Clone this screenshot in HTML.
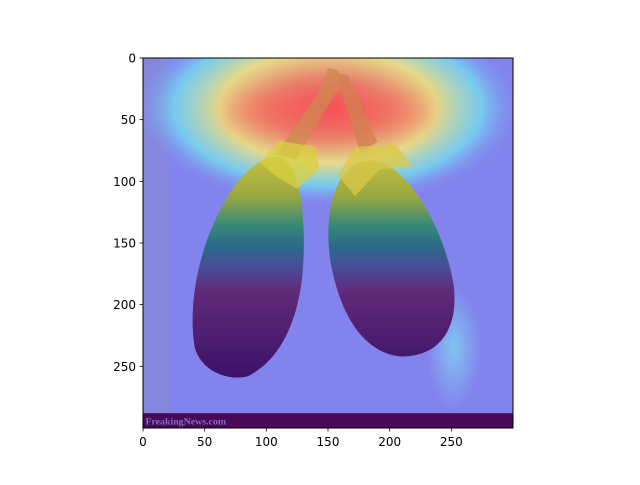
<!DOCTYPE html>
<html><head><meta charset="utf-8">
<style>
html,body{margin:0;padding:0;background:#fff;}
svg text{font-family:"DejaVu Sans","Liberation Sans",sans-serif;font-size:12px;fill:#000;}
</style></head>
<body>
<svg id="chart" width="640" height="480" viewBox="0 0 640 480" xmlns="http://www.w3.org/2000/svg">
<defs>
  <radialGradient id="heat" cx="0.5" cy="0.5" r="0.5">
    <stop offset="0" stop-color="#ff4848" stop-opacity="0.85"/>
    <stop offset="0.3" stop-color="#ff8a50" stop-opacity="0.8"/>
    <stop offset="0.55" stop-color="#fff070" stop-opacity="0.8"/>
    <stop offset="0.78" stop-color="#70f0f0" stop-opacity="0.65"/>
    <stop offset="1" stop-color="#8080f0" stop-opacity="0"/>
  </radialGradient>
  <linearGradient id="egg" gradientUnits="userSpaceOnUse" x1="0" y1="80" x2="0" y2="262">
    <stop offset="0" stop-color="#c8c040"/>
    <stop offset="0.18" stop-color="#98a840"/>
    <stop offset="0.3" stop-color="#3a8a78"/>
    <stop offset="0.4" stop-color="#2a6a88"/>
    <stop offset="0.5" stop-color="#4a4a98"/>
    <stop offset="0.6" stop-color="#602a78"/>
    <stop offset="1" stop-color="#3a1068"/>
  </linearGradient>
  <radialGradient id="cyanR" cx="0.5" cy="0.5" r="0.5">
    <stop offset="0" stop-color="#80e0f0" stop-opacity="0.7"/>
    <stop offset="1" stop-color="#80e0f0" stop-opacity="0"/>
  </radialGradient>
  <filter id="blur" x="-50%" y="-50%" width="200%" height="200%"><feGaussianBlur stdDeviation="10"/></filter>
  <clipPath id="imgclip"><rect x="143" y="58" width="370" height="370"/></clipPath>
</defs>
<g clip-path="url(#imgclip)"><g id="image"></g></g>
<rect x="143" y="58" width="370" height="370" fill="none" stroke="#000" stroke-width="1"/>
<g id="xaxis"></g>
<g id="yaxis"></g>
</svg>
<script>
const xTicks = [0, 50, 100, 150, 200, 250];
const yTicks = [0, 50, 100, 150, 200, 250];
const imgSize = [300, 300];
const X0 = 143, Y0 = 58, W = 370, H = 370;
function sx(v){ return X0 + v / imgSize[0] * W; }
function sy(v){ return Y0 + v / imgSize[1] * H; }
const NS = 'http://www.w3.org/2000/svg';
function mk(tag, attrs, parent){ const e = document.createElementNS(NS, tag); for (const k in attrs) e.setAttribute(k, attrs[k]); parent.appendChild(e); return e; }
const img = document.getElementById('image');
img.setAttribute('transform', `translate(${X0} ${Y0}) scale(${W/imgSize[0]} ${H/imgSize[1]})`);
let e;
e = mk('rect', {x:0, y:0, width:300, height:300, fill:'#8383ee'}, img);


e = mk('rect', {x:0, y:0, width:22, height:300, fill:'#8a8ad0', opacity:0.5}, img);


e = mk('ellipse', {cx:252, cy:235, rx:22, ry:50, fill:'url(#cyanR)'}, img);


e = mk('ellipse', {cx:150, cy:40, rx:160, ry:82, fill:'url(#heat)'}, img);


e = mk('ellipse', {cx:150, cy:44, rx:85, ry:18, fill:'#ff5050', opacity:0.45, filter:'url(#blur)'}, img);


// stems
e = mk('path', {d:'M108 78 L146 22 L150 8 L158 10 L160 22 L124 82 Z', fill:'#d08850', opacity:0.75}, img);


e = mk('path', {d:'M156 12 L166 14 L190 68 L176 76 Z', fill:'#d08050', opacity:0.75}, img);


// eggplants
e = mk('path', {d:'M110 80 C128 85,132 130,130 165 C128 210,112 245,85 258 C70 262,48 255,42 235 C36 200,45 150,70 110 C82 92,95 80,110 80 Z', fill:'url(#egg)'}, img);


e = mk('path', {d:'M185 83 C215 85,245 140,252 185 C256 220,240 242,210 242 C180 240,160 210,152 165 C146 125,155 85,185 83 Z', fill:'url(#egg)'}, img);


// calyx
e = mk('path', {d:'M95 85 L110 67 L140 72 L143 90 L125 106 L108 96 Z', fill:'#d8d040', opacity:0.75}, img);


e = mk('path', {d:'M158 95 L172 72 L205 70 L218 88 L192 90 L172 112 Z', fill:'#d8c848', opacity:0.75}, img);


// bottom strip
e = mk('rect', {x:0, y:288, width:300, height:12, fill:'#4a0858'}, img);


e = mk('text', {x:2, y:297, style:'font-family:"Liberation Serif",serif;font-size:8px;font-weight:bold;fill:#7a70c8'}, img);
e.textContent = 'FreakingNews.com';


// axes
const xa = document.getElementById('xaxis');
xTicks.forEach(t => {
  const x = sx(t);
  const l = mk('line', {x1:x, y1:428, x2:x, y2:431.5, stroke:'#000', 'stroke-width':0.8}, xa);
  
  
  const tx = mk('text', {x:x, y:446, 'text-anchor':'middle'}, xa);
  tx.textContent = t;
  
  
});
const ya = document.getElementById('yaxis');
yTicks.forEach(t => {
  const y = sy(t);
  const l = mk('line', {x1:139.5, y1:y, x2:143, y2:y, stroke:'#000', 'stroke-width':0.8}, ya);
  
  
  const tx = mk('text', {x:136, y:y+4.5, 'text-anchor':'end'}, ya);
  tx.textContent = t;
  
  
});
</script>
</body></html>
